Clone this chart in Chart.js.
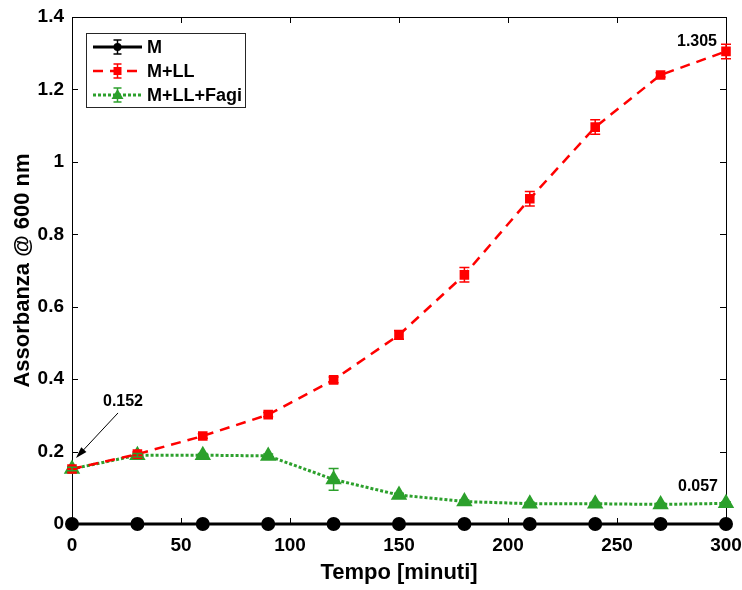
<!DOCTYPE html>
<html>
<head>
<meta charset="utf-8">
<script src="https://cdn.jsdelivr.net/npm/chart.js@4.4.0/dist/chart.umd.min.js"></script>
<style>
  body { margin: 0; background: #fff; }
  #wrap { width: 742px; height: 590px; }
</style>
</head>
<body>
<div id="wrap"><canvas id="graph"></canvas></div>
<script>
// Data arrays
const tempo = [0, 30, 60, 90, 120, 150, 180, 210, 240, 270, 300];
const val_M = [0, 0, 0, 0, 0, 0, 0, 0, 0, 0, 0];
const val_LL = [0.152, 0.193, 0.243, 0.302, 0.398, 0.522, 0.688, 0.898, 1.096, 1.240, 1.305];
const err_LL = [0.006, 0.006, 0.006, 0.006, 0.008, 0.012, 0.02, 0.02, 0.02, 0.006, 0.02];
const val_Fagi = [0.152, 0.190, 0.190, 0.188, 0.123, 0.080, 0.062, 0.056, 0.056, 0.054, 0.057];
const err_Fagi = [0.005, 0.005, 0.005, 0.005, 0.03, 0.005, 0.004, 0.004, 0.004, 0.004, 0.004];
const err_M = [0, 0, 0, 0, 0, 0, 0, 0, 0, 0, 0];

const FONT = 'Liberation Sans, Arial, sans-serif';

function pts(vals) {
    return tempo.map((t, i) => ({ x: t, y: vals[i] }));
}

const data = {
    datasets: [{
        label: 'M',
        data: pts(val_M),
        errs: err_M,
        borderColor: '#000',
        backgroundColor: '#000',
        borderWidth: 3,
        pointStyle: 'circle',
        pointRadius: 5.5,
        clip: false,
        order: 1
    }, {
        label: 'M+LL',
        data: pts(val_LL),
        errs: err_LL,
        borderColor: '#ff0000',
        backgroundColor: '#ff0000',
        borderWidth: 2.5,
        borderDash: [10, 7],
        pointStyle: 'rect',
        pointRadius: 5,
        clip: false,
        order: 2
    }, {
        label: 'M+LL+Fagi',
        data: pts(val_Fagi),
        errs: err_Fagi,
        borderColor: '#2ca02c',
        backgroundColor: '#2ca02c',
        borderWidth: 3,
        borderDash: [3, 2],
        pointStyle: 'triangle',
        pointRadius: 6.5,
        clip: false,
        order: 3
    }]
};

// error bars, box, inward ticks, labels, legend
const extras = {
    id: 'extras',
    beforeDatasetsDraw(chart) {
        const c = chart.ctx;
        const xs = chart.scales.x, ys = chart.scales.y;
        const a = chart.chartArea;
        c.save();
        c.strokeStyle = '#000';
        c.lineWidth = 1;
        c.strokeRect(a.left + 0.5, a.top + 0.5, a.right - a.left, a.bottom - a.top);
        c.beginPath();
        xs.ticks.forEach(t => {
            const px = Math.round(xs.getPixelForValue(t.value)) + 0.5;
            c.moveTo(px, a.bottom); c.lineTo(px, a.bottom - 6);
            c.moveTo(px, a.top); c.lineTo(px, a.top + 6);
        });
        ys.ticks.forEach(t => {
            const py = Math.round(ys.getPixelForValue(t.value)) + 0.5;
            c.moveTo(a.left, py); c.lineTo(a.left + 6, py);
            c.moveTo(a.right, py); c.lineTo(a.right - 6, py);
        });
        c.stroke();
        c.restore();
    },
    afterDatasetsDraw(chart) {
        const c = chart.ctx;
        const xs = chart.scales.x, ys = chart.scales.y;
        const a = chart.chartArea;
        c.save();
        chart.data.datasets.forEach(ds => {
            c.strokeStyle = ds.borderColor;
            c.lineWidth = 1.5;
            ds.data.forEach((p, i) => {
                const e = ds.errs[i];
                if (!e) return;
                const px = xs.getPixelForValue(p.x);
                const y1 = ys.getPixelForValue(p.y - e), y2 = ys.getPixelForValue(p.y + e);
                c.beginPath();
                c.moveTo(px, y1); c.lineTo(px, y2);
                c.moveTo(px - 5, y1); c.lineTo(px + 5, y1);
                c.moveTo(px - 5, y2); c.lineTo(px + 5, y2);
                c.stroke();
            });
        });

        // annotations
        c.fillStyle = '#000';
        c.strokeStyle = '#000';
        c.lineWidth = 1;
        c.font = 'bold 16px ' + FONT;
        c.textAlign = 'center';
        c.textBaseline = 'middle';
        const p0x = xs.getPixelForValue(tempo[0]), p0y = ys.getPixelForValue(val_LL[0]);
        c.fillText(val_LL[0].toFixed(3), p0x + 51, p0y - 67);
        const tx = p0x + 46, ty = p0y - 56, hx = p0x + 4, hy = p0y - 11;
        const ang = Math.atan2(hy - ty, hx - tx);
        c.beginPath();
        c.moveTo(tx, ty); c.lineTo(hx - 6 * Math.cos(ang), hy - 6 * Math.sin(ang));
        c.stroke();
        c.beginPath();
        c.moveTo(hx, hy);
        c.lineTo(hx - 12 * Math.cos(ang - 0.3), hy - 12 * Math.sin(ang - 0.3));
        c.lineTo(hx - 12 * Math.cos(ang + 0.3), hy - 12 * Math.sin(ang + 0.3));
        c.closePath();
        c.fill();
        const n = tempo.length - 1;
        const pnx = xs.getPixelForValue(tempo[n]);
        c.fillText(val_LL[n].toFixed(3), pnx - 29, ys.getPixelForValue(val_LL[n]) - 10);
        c.fillText(val_Fagi[n].toFixed(3), pnx - 28, ys.getPixelForValue(val_Fagi[n]) - 17);

        // legend
        const lx = a.left + 14, ly = a.top + 16, lw = 159, lh = 74;
        c.fillStyle = '#fff';
        c.fillRect(lx, ly, lw, lh);
        c.lineWidth = 1;
        c.strokeStyle = '#262626';
        c.strokeRect(lx + 0.5, ly + 0.5, lw, lh);
        chart.data.datasets.forEach((ds, i) => {
            const yy = ly + 14 + i * 24;
            const x0 = lx + 7, x1 = lx + 56, xm = (x0 + x1) / 2;
            c.strokeStyle = ds.borderColor;
            c.fillStyle = ds.backgroundColor;
            c.lineWidth = ds.borderWidth;
            c.setLineDash(ds.borderDash || []);
            c.beginPath();
            c.moveTo(x0, yy); c.lineTo(x1, yy);
            c.stroke();
            c.setLineDash([]);
            c.lineWidth = 1.5;
            c.beginPath();
            c.moveTo(xm, yy - 7); c.lineTo(xm, yy + 7);
            c.moveTo(xm - 4, yy - 7); c.lineTo(xm + 4, yy - 7);
            c.moveTo(xm - 4, yy + 7); c.lineTo(xm + 4, yy + 7);
            c.stroke();
            c.beginPath();
            if (ds.pointStyle === 'circle') {
                c.arc(xm, yy, 4, 0, Math.PI * 2);
            } else if (ds.pointStyle === 'rect') {
                c.rect(xm - 4, yy - 4, 8, 8);
            } else {
                c.moveTo(xm, yy - 6); c.lineTo(xm + 6, yy + 4); c.lineTo(xm - 6, yy + 4); c.closePath();
            }
            c.fill();
            c.fillStyle = '#000';
            c.font = 'bold 18px ' + FONT;
            c.textAlign = 'left';
            c.fillText(ds.label, x1 + 5, yy + 1);
        });
        c.restore();
    }
};

const ctx = document.getElementById('graph').getContext('2d');
const graph = new Chart(ctx, {
    type: 'line',
    data: data,
    plugins: [extras],
    options: {
        responsive: true,
        maintainAspectRatio: false,
        animation: false,
        layout: { padding: { top: 17, right: 16, left: 0, bottom: 0 } },
        scales: {
            x: {
                type: 'linear',
                min: 0,
                max: 300,
                afterFit: s => { s.height = 66; s.paddingLeft = 0; s.paddingRight = 0; },
                grid: { display: false, drawTicks: false },
                border: { display: false },
                ticks: {
                    stepSize: 50,
                    padding: 10,
                    color: '#000',
                    font: { family: FONT, size: 19, weight: 'bold' }
                },
                title: {
                    display: true,
                    text: 'Tempo [minuti]',
                    color: '#000',
                    padding: { top: 4 },
                    font: { family: FONT, size: 22, weight: 'bold' }
                }
            },
            y: {
                min: 0,
                max: 1.4,
                afterFit: s => { s.width = 72; s.paddingTop = 0; s.paddingBottom = 0; },
                grid: { display: false, drawTicks: false },
                border: { display: false },
                ticks: {
                    stepSize: 0.2,
                    padding: 8,
                    color: '#000',
                    font: { family: FONT, size: 19, weight: 'bold' },
                    callback: v => Math.round(v * 10) / 10
                },
                title: {
                    display: true,
                    text: 'Assorbanza @ 600 nm',
                    color: '#000',
                    padding: { top: 10, bottom: 2 },
                    font: { family: FONT, size: 22, weight: 'bold' }
                }
            }
        },
        plugins: {
            legend: { display: false },
            tooltip: { enabled: false }
        }
    }
});
</script>
</body>
</html>
